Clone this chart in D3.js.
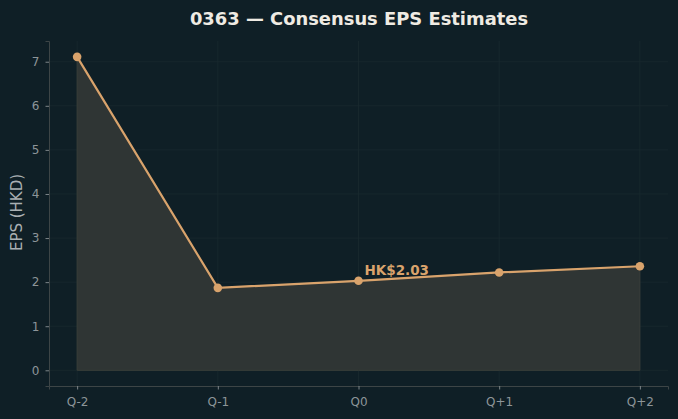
<!DOCTYPE html>
<meta charset="utf-8">
<script src="https://d3js.org/d3.v7.min.js"></script>
<style>
  body { margin: 0; background: #0f1f26; }
  text { font-family: "DejaVu Sans", sans-serif; }
</style>
<div id="chart"></div>
<script>
    // chart data
    var quarters = ["Q-2", "Q-1", "Q0", "Q+1", "Q+2"];
    var epsValues = [7.11, 1.87, 2.03, 2.22, 2.36];
    var yTicks = [0, 1, 2, 3, 4, 5, 6, 7];
    var labelIndex = 2;
    var labelText = "HK$2.03";

    var W = 678, H = 419;
    var margin = {top: 41, right: 10, bottom: 33, left: 49};
    var width = W - margin.left - margin.right,
        height = H - margin.top - margin.bottom;

    var svg = d3.select("#chart").append("svg")
        .attr("width", W).attr("height", H)
        .style("background", "#0f1f26");

    var g = svg.append("g")
        .attr("transform", "translate(" + margin.left + "," + margin.top + ")");

    var x = d3.scaleLinear().domain([-0.2, 4.2]).range([0, width]);
    var y = d3.scaleLinear().domain([-0.356, 7.47]).range([height, 0]);

    // grid
    g.selectAll(".hgrid").data(yTicks).enter().append("line")
        .attr("x1", 0).attr("x2", width)
        .attr("y1", function(d){ return y(d) }).attr("y2", function(d){ return y(d) })
        .attr("stroke", "#19292f").attr("stroke-width", 0.8);
    g.selectAll(".vgrid").data(quarters).enter().append("line")
        .attr("x1", function(d, i){ return x(i) }).attr("x2", function(d, i){ return x(i) })
        .attr("y1", 0).attr("y2", height)
        .attr("stroke", "#19292f").attr("stroke-width", 0.8);

    // area fill
    var pts = epsValues.map(function(v, i){ return {i: i, v: v} });
    g.append("path").datum(pts)
        .attr("fill", "#2f3534")
        .attr("stroke", "#3a3f3a")
        .attr("stroke-width", 1)
        .attr("d", d3.area()
            .x(function(d){ return x(d.i) })
            .y0(y(0))
            .y1(function(d){ return y(d.v) }));

    // line
    g.append("path").datum(pts)
        .attr("fill", "none")
        .attr("stroke", "#d9a36c")
        .attr("stroke-width", 2.2)
        .attr("d", d3.line()
            .x(function(d){ return x(d.i) })
            .y(function(d){ return y(d.v) }));

    g.selectAll(".dot").data(pts).enter().append("circle")
        .attr("cx", function(d){ return x(d.i) })
        .attr("cy", function(d){ return y(d.v) })
        .attr("r", 4.3)
        .attr("fill", "#d9a36c");

    // annotation
    g.append("text")
        .attr("x", x(labelIndex) + 6)
        .attr("y", y(epsValues[labelIndex]) - 6)
        .attr("fill", "#d9a36c")
        .style("font-size", "13.5px")
        .style("font-weight", "bold")
        .text(labelText);

    // axes
    var yAxis = g.append("g")
        .call(d3.axisLeft(y).tickValues(yTicks).tickSize(3.5).tickPadding(6).tickFormat(d3.format("d")));
    var xAxis = g.append("g")
        .attr("transform", "translate(0," + height + ")")
        .call(d3.axisBottom(x).tickValues([0, 1, 2, 3, 4]).tickSize(3.5).tickPadding(7.5)
            .tickFormat(function(d){ return quarters[d] }));

    [yAxis, xAxis].forEach(function(a){
        a.select(".domain").attr("stroke", "#3d4546").attr("stroke-width", 1);
        a.selectAll(".tick line").attr("stroke", "#7d8588");
        a.selectAll(".tick text").attr("fill", "#8d9599").style("font-size", "12px")
            .style("font-family", "DejaVu Sans");
    });

    // y label
    svg.append("text")
        .attr("transform", "translate(22," + (margin.top + height / 2 - 1) + ") rotate(-90)")
        .attr("text-anchor", "middle")
        .attr("fill", "#a9b0b3")
        .style("font-size", "15px")
        .text("EPS (HKD)");

    // title
    svg.append("text")
        .attr("x", 359)
        .attr("y", 24.5)
        .attr("text-anchor", "middle")
        .attr("fill", "#efebe3")
        .style("font-size", "17.9px")
        .style("font-weight", "bold")
        .text("0363 — Consensus EPS Estimates");
</script>
